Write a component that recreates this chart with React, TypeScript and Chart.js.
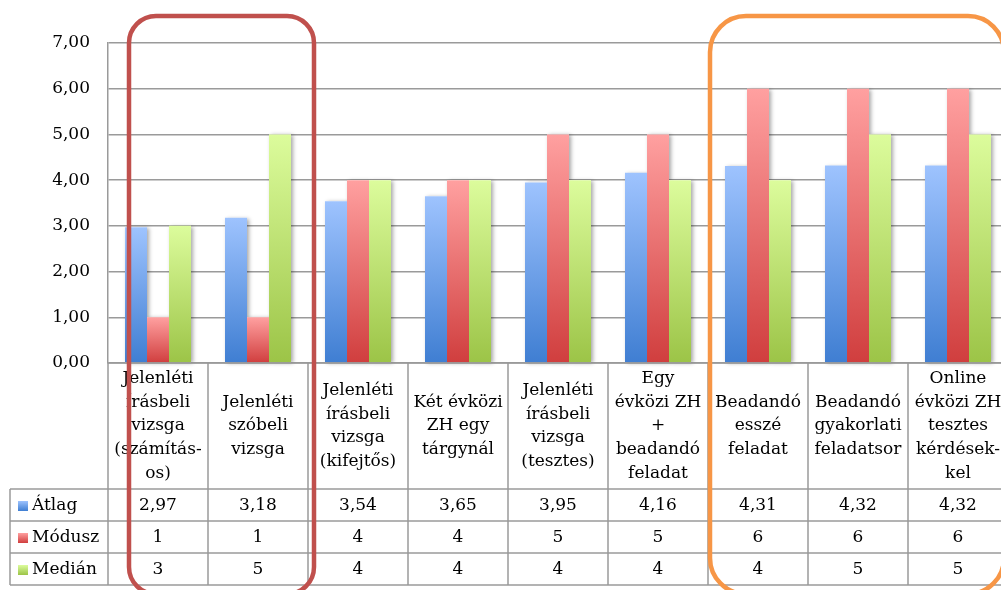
import React, { useEffect, useRef } from "react";
import { Chart, registerables } from "chart.js";

Chart.register(...registerables);

const categories: string[][] = [
  ["Jelenléti", "írásbeli", "vizsga", "(számítás-", "os)"],
  ["Jelenléti", "szóbeli", "vizsga"],
  ["Jelenléti", "írásbeli", "vizsga", "(kifejtős)"],
  ["Két évközi", "ZH egy", "tárgynál"],
  ["Jelenléti", "írásbeli", "vizsga", "(tesztes)"],
  ["Egy", "évközi ZH", "+", "beadandó", "feladat"],
  ["Beadandó", "esszé", "feladat"],
  ["Beadandó", "gyakorlati", "feladatsor"],
  ["Online", "évközi ZH", "tesztes", "kérdések-", "kel"],
];

const seriesNames = ["Átlag", "Módusz", "Medián"];
const atlag = [2.97, 3.18, 3.54, 3.65, 3.95, 4.16, 4.31, 4.32, 4.32];
const modusz = [1, 1, 4, 4, 5, 5, 6, 6, 6];
const median = [3, 5, 4, 4, 4, 4, 4, 5, 5];
const yTicks = [0, 1, 2, 3, 4, 5, 6, 7];

const FONT = "DejaVu Serif";
const CANVAS_W = 1040;
const CANVAS_H = 590;

const colors = [
  { top: "#9EC3FE", bottom: "#3F7ED2" },
  { top: "#FFA0A0", bottom: "#D03E3E" },
  { top: "#DCFC9C", bottom: "#9CC447" },
];

const grad = (top: string, bottom: string) => (ctx: any) => {
  const chart = ctx.chart;
  const ca = chart.chartArea;
  if (!ca || ctx.type !== "data") return bottom;
  const y = chart.scales.y;
  const v = ctx.raw as number;
  const yTop = y.getPixelForValue(v);
  const yBase = y.getPixelForValue(0);
  const g = chart.ctx.createLinearGradient(0, yTop, 0, yBase);
  g.addColorStop(0, top);
  g.addColorStop(1, bottom);
  return g;
};

// draws soft shadows under every bar before the bars themselves are drawn
const shadowPlugin = {
  id: "barShadow",
  beforeDatasetsDraw(chart: any) {
    const c = chart.ctx;
    c.save();
    c.shadowColor = "rgba(0,0,0,0.35)";
    c.shadowBlur = 4;
    c.shadowOffsetX = 2;
    c.shadowOffsetY = 1;
    c.fillStyle = "#fff";
    chart.data.datasets.forEach((_: any, di: number) => {
      const meta = chart.getDatasetMeta(di);
      meta.data.forEach((el: any) => {
        const p = el.getProps(["x", "y", "base", "width"], true);
        c.fillRect(p.x - p.width / 2, p.y, p.width, p.base - p.y);
      });
    });
    c.restore();
  },
};

const fmt = (v: number, decimals: number) =>
  v.toFixed(decimals).replace(".", ",");

const tablePlugin = {
  id: "dataTable",
  afterDraw(chart: any) {
    const c = chart.ctx;
    const x = chart.scales.x;
    const ca = chart.chartArea;
    const half = (x.getPixelForValue(1) - x.getPixelForValue(0)) / 2;
    const top = ca.bottom;
    const labelRowH = 126;
    const rowH = 32;
    const rowTops = [top + labelRowH, top + labelRowH + rowH, top + labelRowH + 2 * rowH];
    const tableBottom = top + labelRowH + 3 * rowH;
    const leftX = 10;
    const right = chart.width;
    c.save();
    c.strokeStyle = "#9a9a9a";
    c.lineWidth = 1.5;
    c.beginPath();
    c.moveTo(ca.left, top);
    c.lineTo(right, top);
    for (const ry of rowTops) {
      c.moveTo(leftX, ry);
      c.lineTo(right, ry);
    }
    c.moveTo(leftX, tableBottom);
    c.lineTo(right, tableBottom);
    c.moveTo(leftX, rowTops[0]);
    c.lineTo(leftX, tableBottom);
    for (let i = 0; i <= categories.length; i++) {
      const bx = x.getPixelForValue(i) - half;
      c.moveTo(bx, top);
      c.lineTo(bx, tableBottom);
    }
    c.stroke();

    c.fillStyle = "#000";
    c.font = `17px "${FONT}"`;
    c.textAlign = "center";
    c.textBaseline = "middle";
    const lh = 23.6;
    categories.forEach((lines, i) => {
      const cx = x.getPixelForValue(i);
      const cy = top + labelRowH / 2;
      const start = cy - ((lines.length - 1) * lh) / 2;
      lines.forEach((ln, j) => c.fillText(ln, cx, start + j * lh));
    });

    const series = [atlag, modusz, median];
    const decs = [2, 0, 0];
    series.forEach((vals, s) => {
      const cy = rowTops[s] + rowH / 2 + 1;
      vals.forEach((v, i) => {
        c.fillText(fmt(v, decs[s]), x.getPixelForValue(i), cy);
      });
      const ks = 10;
      const ky = cy - ks / 2;
      const g = c.createLinearGradient(0, ky, 0, ky + ks);
      g.addColorStop(0, colors[s].top);
      g.addColorStop(1, colors[s].bottom);
      c.fillStyle = g;
      c.fillRect(18, ky, ks, ks);
      c.fillStyle = "#000";
      c.textAlign = "left";
      c.fillText(seriesNames[s], 32, cy);
      c.textAlign = "center";
    });
    c.restore();

    const roundBox = (l: number, t: number, r: number, b: number, rad: number, col: string) => {
      c.save();
      c.strokeStyle = col;
      c.lineWidth = 4.5;
      c.beginPath();
      c.moveTo(l + rad, t);
      c.lineTo(r - rad, t);
      c.arcTo(r, t, r, t + rad, rad);
      c.lineTo(r, b - rad);
      c.arcTo(r, b, r - rad, b, rad);
      c.lineTo(l + rad, b);
      c.arcTo(l, b, l, b - rad, rad);
      c.lineTo(l, t + rad);
      c.arcTo(l, t, l + rad, t, rad);
      c.closePath();
      c.stroke();
      c.restore();
    };
    roundBox(x.getPixelForValue(0) - 29, 16, x.getPixelForValue(1) + 56, 594, 27, "#C0504D");
    roundBox(x.getPixelForValue(6) - 48, 16, x.getPixelForValue(8) + 46, 594, 36, "#F79646");
  },
};

export default function App() {
  const ref = useRef<HTMLCanvasElement | null>(null);
  useEffect(() => {
    if (!ref.current) return;
    const seriesData = [atlag, modusz, median];
    const chart = new Chart(ref.current, {
      type: "bar",
      data: {
        labels: categories.map((c) => c.join(" ")),
        datasets: seriesData.map((d, i) => ({
          label: seriesNames[i],
          data: d,
          backgroundColor: grad(colors[i].top, colors[i].bottom),
          borderWidth: 0,
          categoryPercentage: 0.66,
          barPercentage: 1,
        })),
      },
      options: {
        responsive: false,
        animation: false,
        devicePixelRatio: 1,
        layout: { padding: { left: 0, top: 43, bottom: CANVAS_H - 363, right: CANVAS_W - 1008 } },
        plugins: { legend: { display: false }, tooltip: { enabled: false } },
        scales: {
          x: { display: false },
          y: {
            min: 0,
            max: 7,
            afterBuildTicks: (scale: any) => {
              scale.ticks = yTicks.map((v) => ({ value: v }));
            },
            afterFit: (scale: any) => {
              scale.width = 108;
            },
            grid: { color: "#9a9a9a", lineWidth: 1.5, drawTicks: false },
            border: { color: "#9a9a9a", width: 1.5 },
            ticks: {
              padding: 18,
              color: "#000",
              font: { family: FONT, size: 17 },
              callback: (v: any) => fmt(Number(v), 2),
            },
          },
        },
      },
      plugins: [shadowPlugin, tablePlugin],
    });
    return () => chart.destroy();
  }, []);
  return (
    <div style={{ position: "absolute", left: 0, top: 0, width: 1001, height: 590, overflow: "hidden", background: "#fff" }}>
      <canvas ref={ref} width={CANVAS_W} height={CANVAS_H} style={{ display: "block" }} />
    </div>
  );
}
